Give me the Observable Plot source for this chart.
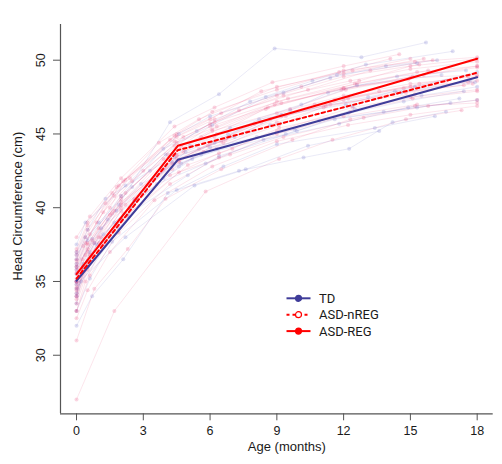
<!DOCTYPE html>
<html>
<head>
<meta charset="utf-8">
<script src="https://cdn.jsdelivr.net/npm/d3@7"></script>
<script src="https://cdn.jsdelivr.net/npm/@observablehq/plot@0.6"></script>
<style>
  html, body { margin: 0; padding: 0; background: #fff; }
  #chart { width: 502px; height: 464px; }
</style>
</head>
<body>
<div id="chart"></div>
<script>
// ---- Data ----
const xTicks = [0, 3, 6, 9, 12, 15, 18];
const yTicks = [30, 35, 40, 45, 50];
const xTitle = "Age (months)";
const yTitle = "Head Circumference (cm)";

const groupNames = ["TD", "ASD-nREG", "ASD-REG"];
const meanAges = [0, 4.55, 18];
const meanTD = [35.05, 43.25, 48.85];
const meanASDnREG = [35.2, 43.9, 49.15];
const meanASDREG = [35.5, 44.2, 50.1];

// individual trajectories: [age (months), head circumference (cm)]
const tdSubjects = [
  [[0,35.0],[0.6,37.0],[1.4,39.2],[2.9,41.6],[4.7,43.0],[6.3,44.0],[8.7,45.6],[12.4,46.9],[14.6,47.8],[17.7,48.6]],
  [[0,34.0],[0.3,36.2],[2.3,39.5],[3.8,42.5],[5.6,43.6],[9.4,45.0],[11.6,46.0],[15.3,46.8],[18,47.3]],
  [[0,32.0],[0.7,34.0],[2.1,36.5],[4.1,41.0],[7.3,42.5],[10.2,43.4],[12.25,44.0],[14.2,45.8],[16.6,46.5]],
  [[0,36.5],[0.4,38.0],[1.9,40.2],[4.2,45.8],[6.4,47.7],[8.9,50.8],[12.8,50.2],[15.7,51.2]],
  [[0,36.0],[1.1,38.6],[2.6,40.5],[4.9,43.8],[6.8,45.0],[9.6,46.6],[11.3,47.8],[14.4,48.9],[17.5,49.3]],
  [[0,33.5],[0.2,35.0],[0.9,37.5],[1.7,39.0],[3.9,42.0],[5.2,43.3],[8.1,44.8],[10.9,45.9],[13.8,46.5],[16.8,47.1]],
  [[0,35.5],[0.8,37.6],[2.4,40.0],[4.4,43.4],[7.1,44.8],[9.2,46.3],[13.1,47.5],[15.2,48.2],[18,49.2]],
  [[0,37.0],[0.5,38.5],[1.3,40.6],[3.3,42.5],[5.1,44.2],[6.9,45.4],[10.1,47.0],[12.6,48.3],[16.4,49.0]],
  [[0,34.5],[1.9,38.6],[3.6,41.6],[5.8,43.0],[8.4,44.6],[11.8,45.7],[14.9,46.8],[17.2,47.4]],
  [[0,35.0],[0.3,36.0],[1.2,38.2],[2.7,40.5],[4.6,42.8],[6.0,44.1],[9.8,45.3],[12.5,46.7],[15.5,47.6],[18,48.2]],
  [[0,36.2],[0.5,37.8],[2.0,40.8],[3.9,44.0],[6.1,45.6],[8.5,47.5],[11.4,48.8],[13.9,49.6],[16.2,50.0]],
  [[0,33.0],[0.6,35.2],[1.6,37.7],[4.5,41.2],[6.6,42.8],[9.0,44.3],[13.4,45.4],[16.1,46.2]],
  [[0,34.8],[2.2,38.0],[5.3,41.5],[7.6,42.6],[10.4,44.2],[13.6,45.2]],
  [[0,35.8],[0.7,37.9],[1.8,39.8],[4.3,43.1],[6.2,44.4],[8.2,46.0],[12.1,47.0],[14.3,47.9],[17.9,48.5]],
  [[0,37.5],[0.4,39.0],[2.2,41.5],[4.6,45.0],[6.0,46.2],[9.3,47.8],[11.7,49.0],[15.3,49.8]],
  [[0,34.2],[0.5,36.4],[2.0,39.2],[5.0,42.2],[6.4,43.5],[9.9,45.2],[12.2,46.4],[14.7,47.2],[17.4,47.9]],
  [[0,36.8],[1.0,39.0],[2.5,41.4],[4.0,43.6],[5.4,45.2],[7.8,47.2],[10.6,48.6],[13.0,49.7],[16.9,50.6]]
];
const asdSubjects = [
  [[0,27.0],[1.7,33.0],[5.8,41.1],[9.1,43.3],[11.5,44.6],[14.8,46.0],[17.3,46.6]],
  [[0,31.0],[0.8,34.5],[2.3,37.2],[4.0,40.6],[6.5,42.6],[9.7,44.6],[12.3,46.0],[15.2,46.9],[18,47.1]],
  [[0,34.0],[0.3,35.8],[1.1,38.0],[2.0,40.2],[4.8,43.8],[6.3,45.0],[8.6,46.8],[12,48.1],[15.6,49.0],[18,49.5]],
  [[0,35.5],[0.5,37.5],[1.5,40.0],[2.2,41.9],[4.4,44.5],[6.2,45.8],[9.5,47.4],[12.7,48.6],[15,49.6],[18,50.1]],
  [[0,33.0],[0.4,35.0],[1.2,37.5],[2.1,39.6],[4.3,42.6],[5.7,43.8],[9.1,45.6],[11.2,46.9],[14.8,47.8],[17.8,48.4]],
  [[0,36.0],[0.6,38.2],[1.9,41.5],[4.2,44.6],[6.0,46.0],[8.3,47.9],[11.8,49.2],[14.1,50.1]],
  [[0,34.5],[0.6,36.8],[2.4,40.0],[4.5,43.5],[6.7,44.6],[9.4,46.2],[12.2,47.4],[15.4,48.4],[17.6,48.9]],
  [[0,35.0],[0.25,36.5],[1.0,38.6],[2.2,41.0],[4.1,43.6],[6.1,45.3],[8.9,47.0],[11.9,48.0],[15.1,48.9],[18,49.6]],
  [[0,37.0],[0.5,38.8],[1.6,41.0],[3.7,44.4],[5.5,46.0],[9.0,48.2],[12.4,49.3],[15.0,50.1]],
  [[0,33.5],[0.5,35.8],[1.8,38.8],[4.2,42.2],[6.9,43.6],[9.3,44.8],[12.9,46.1],[15.8,46.9],[18,47.3]],
  [[0,36.5],[0.4,38.0],[1.3,40.3],[2.4,42.0],[4.5,45.0],[6.5,46.4],[10.1,48.2],[12.0,49.1],[15.6,50.1]],
  [[0,35.0],[0.8,37.6],[2.0,40.4],[4.6,43.2],[6.0,44.4],[8.7,46.0],[11.6,47.3],[14.7,48.1],[17.6,48.5]],
  [[0,34.0],[0.5,36.0],[2.3,39.4],[5.0,42.9],[7.0,44.0],[9.1,45.4],[12.3,46.5],[15.1,47.4],[18,47.9]],
  [[0,38.0],[0.6,39.4],[2.0,42.0],[4.4,45.5],[6.2,46.8],[8.8,48.5],[12.0,49.6],[14.5,50.4]],
  [[0,35.8],[0.5,37.2],[1.7,39.8],[4.3,43.6],[6.1,45.2],[9.6,46.7],[12.1,48.0],[15.0,48.8],[18,49.0]],
  [[0,34.8],[0.3,36.0],[1.0,38.0],[2.0,40.0],[4.6,43.1],[5.9,44.2],[8.3,45.8],[11.4,47.0],[15.2,47.7]],
  [[0,36.8],[0.5,38.5],[2.1,41.8],[4.5,44.8],[6.2,46.0],[9.3,47.6],[12.3,48.6],[15.0,49.4],[18,49.9]],
  [[0,33.0],[0.6,35.4],[1.9,38.3],[4.2,41.6],[6.4,43.4],[9.0,45.0],[12.0,46.2],[15.3,47.0]],
  [[0,35.2],[0.5,37.0],[1.5,39.5],[3.9,43.3],[5.6,44.8],[8.5,46.7],[12.5,48.4],[15.3,49.2],[18,49.6]],
  [[0,36.2],[0.4,37.6],[1.2,39.7],[2.5,41.8],[4.5,44.4],[6.3,45.5],[9.0,47.2],[12.6,48.4],[15.8,49.3]],
  [[0,34.2],[0.5,36.3],[2.0,39.8],[4.3,43.0],[6.6,44.4],[9.0,45.8],[11.1,46.8],[14.4,47.8],[17.4,48.3]],
  [[0,35.6],[0.7,37.8],[2.0,40.8],[4.7,44.2],[6.0,45.5],[9.2,47.1],[12.0,48.1],[14.9,48.7]],
  [[0,32.5],[0.5,34.4],[1.5,37.0],[3.5,40.5],[6.1,42.8],[9.0,44.5],[12.2,45.6],[15.0,46.3],[18,46.9]],
  [[0,37.2],[0.5,39.0],[1.8,41.4],[4.4,44.9],[6.1,46.5],[9.0,48.0],[12.0,49.3],[15.2,49.9],[18,50.2]],
  [[0,34.6],[1.0,37.6],[2.2,40.2],[4.5,43.3],[6.5,44.5],[9.2,46.2],[12.0,47.3],[15.0,48.2],[18,48.6]],
  [[0,36.0],[0.5,37.6],[2.0,40.6],[4.4,44.2],[6.0,45.7],[9.0,47.6],[12.0,48.9],[15.4,49.7]],
  [[0,35.0],[0.4,36.8],[1.6,39.6],[4.5,43.6],[6.2,44.8],[9.0,46.4],[12.0,47.6],[15.0,48.4],[18,48.9]],
  [[0,33.8],[0.5,36.0],[2.0,39.2],[4.6,42.4],[6.4,43.7],[9.0,45.2],[12.4,46.8],[15.0,47.5],[18,48.0]],
  [[0,36.4],[0.3,37.4],[0.9,39.0],[1.7,40.8],[3.0,42.5],[4.8,44.8],[7.3,46.6],[10.4,48.0],[13.2,49.3],[16.0,50.0]],
  [[0,34.4],[0.7,36.8],[2.6,40.6],[3.9,42.6],[5.5,44.0],[8.0,45.7],[10.7,47.0],[13.6,47.9],[16.6,48.6]]
];

// ---- Styles ----
const tdColor = "#3f3c99";
const asdColor = "#ff0000";
const tdFaint = "#5b5bc4";
const asdFaint = "#e8336f";
const axisColor = "#555";
const fontStack = "'Liberation Sans', Arial, sans-serif";

// ---- Build tables ----
const rows = [];
tdSubjects.forEach((s, i) => s.forEach(([a, h]) => rows.push({id: "td" + i, group: "TD", age: a, hc: h})));
asdSubjects.forEach((s, i) => s.forEach(([a, h]) => rows.push({id: "asd" + i, group: "ASD", age: a, hc: h})));
// interleave draw order so neither group completely covers the other
const ids = [...new Set(rows.map(d => d.id))];
const order = new Map(ids.map((id, k) => [id, (k * 7919) % ids.length]));
rows.sort((a, b) => order.get(a.id) - order.get(b.id) || a.age - b.age);

const means = [];
[meanTD, meanASDnREG, meanASDREG].forEach((arr, g) =>
  arr.forEach((v, i) => means.push({group: groupNames[g], age: meanAges[i], hc: v})));

const xDomain = [-0.72, 18.72];
const yDomain = [26.03, 52.42];

const plot = Plot.plot({
  width: 502,
  height: 464,
  marginLeft: 60,
  marginRight: 9.3,
  marginTop: 24,
  marginBottom: 50.7,
  x: {domain: xDomain},
  y: {domain: yDomain},
  style: {fontFamily: fontStack, fontSize: "12.5px", color: "#1a1a1a", background: "#fff", overflow: "visible"},
  marks: [
    Plot.line(rows, {x: "age", y: "hc", z: "id", stroke: d => d.group === "TD" ? tdFaint : asdFaint, strokeOpacity: 0.13, strokeWidth: 1}),
    Plot.dot(rows, {x: "age", y: "hc", r: 2, fill: d => d.group === "TD" ? tdFaint : asdFaint, fillOpacity: 0.2, stroke: "none"}),
    Plot.line(means.filter(d => d.group === "TD"), {x: "age", y: "hc", stroke: tdColor, strokeWidth: 2}),
    Plot.line(means.filter(d => d.group === "ASD-nREG"), {x: "age", y: "hc", stroke: asdColor, strokeWidth: 2, strokeDasharray: "3.5,3"}),
    Plot.line(means.filter(d => d.group === "ASD-REG"), {x: "age", y: "hc", stroke: asdColor, strokeWidth: 2}),
    Plot.ruleX([xDomain[0]], {stroke: axisColor, strokeWidth: 1.2}),
    Plot.ruleY([yDomain[0]], {stroke: axisColor, strokeWidth: 1.2}),
    Plot.axisX({ticks: xTicks, tickSize: 7, tickPadding: 5, stroke: axisColor, label: null, fontSize: 12.5}),
    Plot.axisY({ticks: yTicks, tickSize: 7, tickPadding: 9, tickRotate: -90, stroke: axisColor, label: null, fontSize: 12.5}),
    Plot.text([xTitle], {frameAnchor: "bottom", dx: 10, dy: 37, fontSize: 13, fill: "#1a1a1a"}),
    Plot.text([yTitle], {frameAnchor: "left", rotate: -90, textAnchor: "middle", dx: -43, dy: -13, fontSize: 13, fill: "#1a1a1a"})
  ]
});

document.getElementById("chart").appendChild(plot);

// ---- Legend (drawn inside the SVG, pixel layout) ----
const svg = d3.select(plot);
const legend = svg.append("g")
  .attr("font-family", "'Liberation Sans Narrow', 'Roboto', sans-serif")
  .attr("font-size", 13)
  .attr("text-anchor", "start");
const items = [
  {name: groupNames[0], color: tdColor, dash: null, open: false},
  {name: groupNames[1], color: asdColor, dash: "3,3", open: true},
  {name: groupNames[2], color: asdColor, dash: null, open: false}
];
items.forEach((it, i) => {
  const y = 298.3 + i * 16.4;
  const g = legend.append("g").attr("transform", `translate(0,${y})`);
  g.append("line").attr("x1", 286.5).attr("x2", 310.5).attr("y1", 0).attr("y2", 0)
    .attr("stroke", it.color).attr("stroke-width", 2).attr("stroke-dasharray", it.dash);
  g.append("circle").attr("cx", 298.5).attr("cy", 0).attr("r", 3)
    .attr("fill", it.open ? "#fff" : it.color).attr("stroke", it.color).attr("stroke-width", 1.2);
  g.append("text").attr("x", 319).attr("y", 0).attr("dy", "0.36em")
    .attr("text-anchor", "start").attr("fill", "#1a1a1a").text(it.name);
});
</script>
</body>
</html>
